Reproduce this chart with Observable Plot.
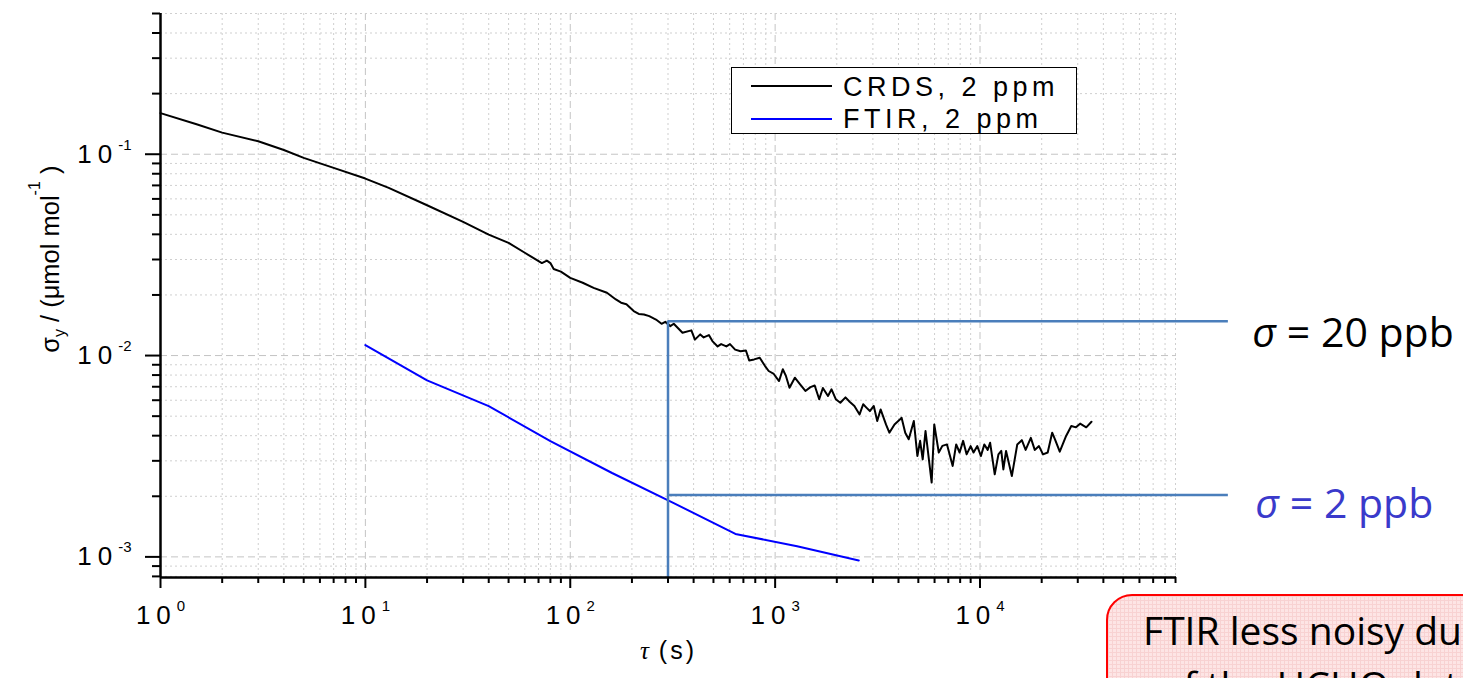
<!DOCTYPE html>
<html>
<head>
<meta charset="utf-8">
<script src="https://cdn.jsdelivr.net/npm/d3@7"></script>
<script src="https://cdn.jsdelivr.net/npm/@observablehq/plot@0.6"></script>
<style>
  html, body { margin: 0; padding: 0; background: #fff; overflow: hidden; width: 1463px; height: 678px; }
  #wrap { position: relative; width: 1463px; height: 678px; overflow: hidden; }
  #wrap > svg { position: absolute; left: 0; top: 0; }
  #legend { position: absolute; left: 731px; top: 67px; width: 344px; height: 65px; border: 1.5px solid #000; background: #fff;
            font-family: "Liberation Sans", Arial, sans-serif; font-size: 27px; letter-spacing: 4.5px; color: #000; }
  #legend .sw { position: absolute; left: 19px; width: 81px; height: 2px; }
  #legend .lb { position: absolute; left: 111px; line-height: 27px; white-space: nowrap; }
  #note { position: absolute; left: 1106px; top: 594px; width: 420px; height: 150px; border: 2px solid #ff0000; border-radius: 26px;
          background-color: #fde5e5;
          background-image: linear-gradient(#f8d2d2 1px, transparent 1px), linear-gradient(90deg, #f8d2d2 1px, transparent 1px);
          background-size: 4px 4px;
          font-family: "Open Sans", "Noto Sans", sans-serif; font-size: 39px; line-height: 55px; color: #000; white-space: nowrap; }
  #note .l1 { position: absolute; left: 35px; top: 6px; }
  #note .l2 { position: absolute; left: 52px; top: 61px; }
</style>
</head>
<body>
<div id="wrap">
  <div id="legend">
    <div class="sw" style="top:17px;background:#000"></div><div class="lb" style="top:6px">CRDS, 2 ppm</div>
    <div class="sw" style="top:50px;background:#0000ff"></div><div class="lb" style="top:38px">FTIR, 2 ppm</div>
  </div>
  <div id="note"><div class="l1">FTIR less noisy due to the averaging</div><div class="l2">of the HCHO data</div></div>
</div>
<script>
// ---- data ----
const crdsTau = [1, 1.5, 2, 3, 4, 5, 7, 10, 13, 20, 30, 40, 50, 60, 72.7, 76.9, 80, 83, 90, 100, 115, 130, 151, 167, 177, 188,
  204, 216, 229, 243, 262, 279, 291, 308, 320, 353, 390, 406, 431, 448, 475, 494, 524, 545, 578, 602, 638, 678, 720, 747,
  790, 841, 893, 930, 985, 1045, 1090, 1130, 1175, 1248, 1324, 1405, 1487, 1560, 1641, 1710, 1811, 1885, 1977, 2081, 2205,
  2310, 2437, 2583, 2690, 2797, 2900, 3030, 3150, 3272, 3475, 3610, 3825, 4075, 4142, 4315, 4488, 4753, 4946, 5100, 5251,
  5420, 5808, 5980, 6290, 6550, 6900, 7355, 7650, 7950, 8270, 8600, 9000, 9300, 9700, 10100, 10500, 10900, 11200, 11800,
  12300, 12700, 13000, 13400, 14300, 15200, 16000, 16700, 17700, 18500, 19400, 20300, 21400, 22500, 23300, 24500, 26200,
  27900, 29400, 30800, 33000, 35000];
const crdsSigma = [0.160, 0.141, 0.128, 0.116, 0.105, 0.0959, 0.0855, 0.0757, 0.068, 0.0558, 0.0461, 0.0399, 0.0363, 0.0324,
  0.0288, 0.0296, 0.0288, 0.0269, 0.0261, 0.0243, 0.0230, 0.0217, 0.0205, 0.0190, 0.0183, 0.0180,
  0.01664, 0.0161, 0.0160, 0.0157, 0.0151, 0.01438, 0.0147, 0.0140, 0.01438, 0.01298, 0.01334, 0.0120, 0.01274, 0.0123,
  0.01264, 0.0118, 0.0111, 0.0114, 0.0111, 0.0114, 0.0107, 0.0105, 0.0106, 0.00946,
  0.00957, 0.00975, 0.00887, 0.00838, 0.0081, 0.00747, 0.00855, 0.0079, 0.00692, 0.00776, 0.0072, 0.00667, 0.00697, 0.0071,
  0.00607, 0.0069, 0.0063, 0.0068, 0.00607, 0.00583, 0.0062,
  0.0059, 0.00562, 0.0051, 0.00573, 0.0055, 0.0053, 0.00562, 0.00473, 0.0054, 0.00455, 0.00414, 0.00455, 0.00482, 0.00491,
  0.00414, 0.00384, 0.00473, 0.00317, 0.00377, 0.00305,
  0.00422, 0.00234, 0.00455, 0.0033, 0.00356, 0.00362, 0.00283, 0.00362, 0.0033, 0.00377, 0.00323, 0.00355, 0.0033, 0.00355,
  0.00317, 0.00362, 0.0034, 0.00369, 0.00257,
  0.00323, 0.00336, 0.00272, 0.00336, 0.00252, 0.00362, 0.0038, 0.0034, 0.0039, 0.0034, 0.00355, 0.00323, 0.0033, 0.00414,
  0.0038, 0.00333, 0.00395,
  0.00447, 0.0044, 0.00459, 0.0044, 0.00469];
const ftirTau = [10, 20, 40, 80, 160, 320, 640, 1280, 2560];
const ftirSigma = [0.01127, 0.00753, 0.00561, 0.00376, 0.00261, 0.00185, 0.0013, 0.00113, 0.00096];
const seriesNames = ["CRDS, 2 ppm", "FTIR, 2 ppm"];

// annotation values
const annTau = 300;
const annSigmaHigh = 0.0148;
const annSigmaLow = 0.00203;
const annTauEnd = 1.63e5;
const annLabels = ["σ = 20 ppb", "σ = 2 ppb"];

// axes
const xDomain = [1, 9.1e4];
const yDomain = [7.9e-4, 0.5];
const xMajor = [1, 10, 100, 1000, 10000];
const yMajor = [0.001, 0.01, 0.1];
const minorMult = [2, 3, 4, 5, 6, 7, 8, 9];
const xLabel = "τ (s)";
const yLabel = "σy / (μmol mol-1 )";
const yLabelAt = 0.0301;

const xMinor = xMajor.flatMap(d => minorMult.map(m => d * m)).filter(v => v <= xDomain[1]);
const yMinor = [0.0001, 0.001, 0.01, 0.1].flatMap(d => minorMult.map(m => d * m)).filter(v => v >= yDomain[0] && v <= yDomain[1]);

const crds = crdsTau.map((t, i) => ({tau: t, sigma: crdsSigma[i]}));
const ftir = ftirTau.map((t, i) => ({tau: t, sigma: ftirSigma[i]}));

const annBlue = "#4a7ebb";
const minorGrid = {stroke: "#cfcfcf", strokeDasharray: "2,3", strokeWidth: 1};
const majorGrid = {stroke: "#c4c4c4", strokeDasharray: "7,4", strokeWidth: 1};

const chart = Plot.plot({
  width: 1463, height: 678,
  marginLeft: 160, marginRight: 287, marginTop: 13, marginBottom: 101,
  style: {fontFamily: '"Liberation Sans", Arial, sans-serif', fontSize: "25px", color: "#000", background: "transparent", overflow: "visible"},
  x: {type: "log", domain: xDomain, label: null},
  y: {type: "log", domain: yDomain, label: null},
  marks: [
    Plot.ruleX(xMinor, minorGrid),
    Plot.ruleX(xMajor.slice(1), majorGrid),
    Plot.ruleY(yMinor, minorGrid),
    Plot.ruleY(yMajor, majorGrid),
    Plot.line(ftir, {x: "tau", y: "sigma", stroke: "#0000ff", strokeWidth: 2}),
    Plot.line(crds, {x: "tau", y: "sigma", stroke: "#000", strokeWidth: 2}),
    Plot.ruleX([annTau], {y1: yDomain[0], y2: annSigmaHigh, stroke: annBlue, strokeWidth: 2.5}),
    Plot.ruleY([annSigmaHigh], {x1: annTau, x2: annTauEnd, stroke: annBlue, strokeWidth: 2.5}),
    Plot.ruleY([annSigmaLow], {x1: annTau, x2: annTauEnd, stroke: annBlue, strokeWidth: 2.5}),
    Plot.axisX(xMinor, {tickSize: 6, strokeWidth: 2, tickFormat: () => ""}),
    Plot.axisX(xMajor, {tickSize: 11, tickPadding: 17, strokeWidth: 2, fontSize: 26, tickFormat: d => String(Math.round(Math.log10(d)))}),
    Plot.axisY(yMinor, {tickSize: 8, strokeWidth: 2, tickFormat: () => ""}),
    Plot.axisY(yMajor, {tickSize: 15, tickPadding: 14, strokeWidth: 2, fontSize: 26, tickFormat: d => String(Math.round(Math.log10(d)))}),
    Plot.ruleX([xDomain[0]], {stroke: "#000", strokeWidth: 2.5}),
    Plot.ruleY([yDomain[0]], {stroke: "#000", strokeWidth: 2.5}),
    Plot.text([xLabel], {frameAnchor: "bottom", dy: 81, fontSize: 25}),
    Plot.text([yLabelAt], {y: d => d, frameAnchor: "left", textAnchor: "middle", text: () => yLabel, rotate: -90, dx: -110, fontSize: 25.5}),
    Plot.text([{x: annTauEnd, y: annSigmaHigh, t: annLabels[0]}], {x: "x", y: "y", text: "t", textAnchor: "start", dx: 24, dy: 12.5,
      fontSize: 41, fontFamily: '"Open Sans", "Noto Sans", sans-serif', fill: "#000"}),
    Plot.text([{x: annTauEnd, y: annSigmaLow, t: annLabels[1]}], {x: "x", y: "y", text: "t", textAnchor: "start", dx: 27, dy: 10,
      fontSize: 41, fontFamily: '"Open Sans", "Noto Sans", sans-serif', fill: "#3a3acb"})
  ]
});

document.getElementById("wrap").prepend(chart);

const svg = d3.select(chart);
svg.selectAll('g[aria-label="x-axis tick label"] text, g[aria-label="y-axis tick label"] text').each(function () {
  const e = this.textContent;
  if (!e) return;
  const t = d3.select(this);
  t.text(null);
  t.append("tspan").attr("letter-spacing", "6px").text("10");
  t.append("tspan").attr("font-size", "15px").attr("dy", "-13px").text(e);
});
svg.selectAll("text").each(function () {
  const s = this.textContent;
  const t = d3.select(this);
  if (s === yLabel) {
    t.text(null);
    t.append("tspan").text("σ");
    t.append("tspan").attr("font-size", "16px").attr("dy", "6px").text("y");
    t.append("tspan").attr("dy", "-6px").text(" / (μmol mol");
    t.append("tspan").attr("font-size", "16px").attr("dy", "-19px").text("-1");
    t.append("tspan").attr("dy", "19px").text(" )");
  } else if (s === xLabel) {
    t.text(null);
    t.append("tspan").attr("font-family", '"Liberation Serif", serif').attr("font-style", "italic").text("τ");
    t.append("tspan").attr("letter-spacing", "3px").text(" (s)");
  } else if (annLabels.includes(s)) {
    t.text(null);
    t.append("tspan").attr("font-style", "italic").text("σ");
    t.append("tspan").text(s.slice(1));
  }
});
</script>
</body>
</html>
